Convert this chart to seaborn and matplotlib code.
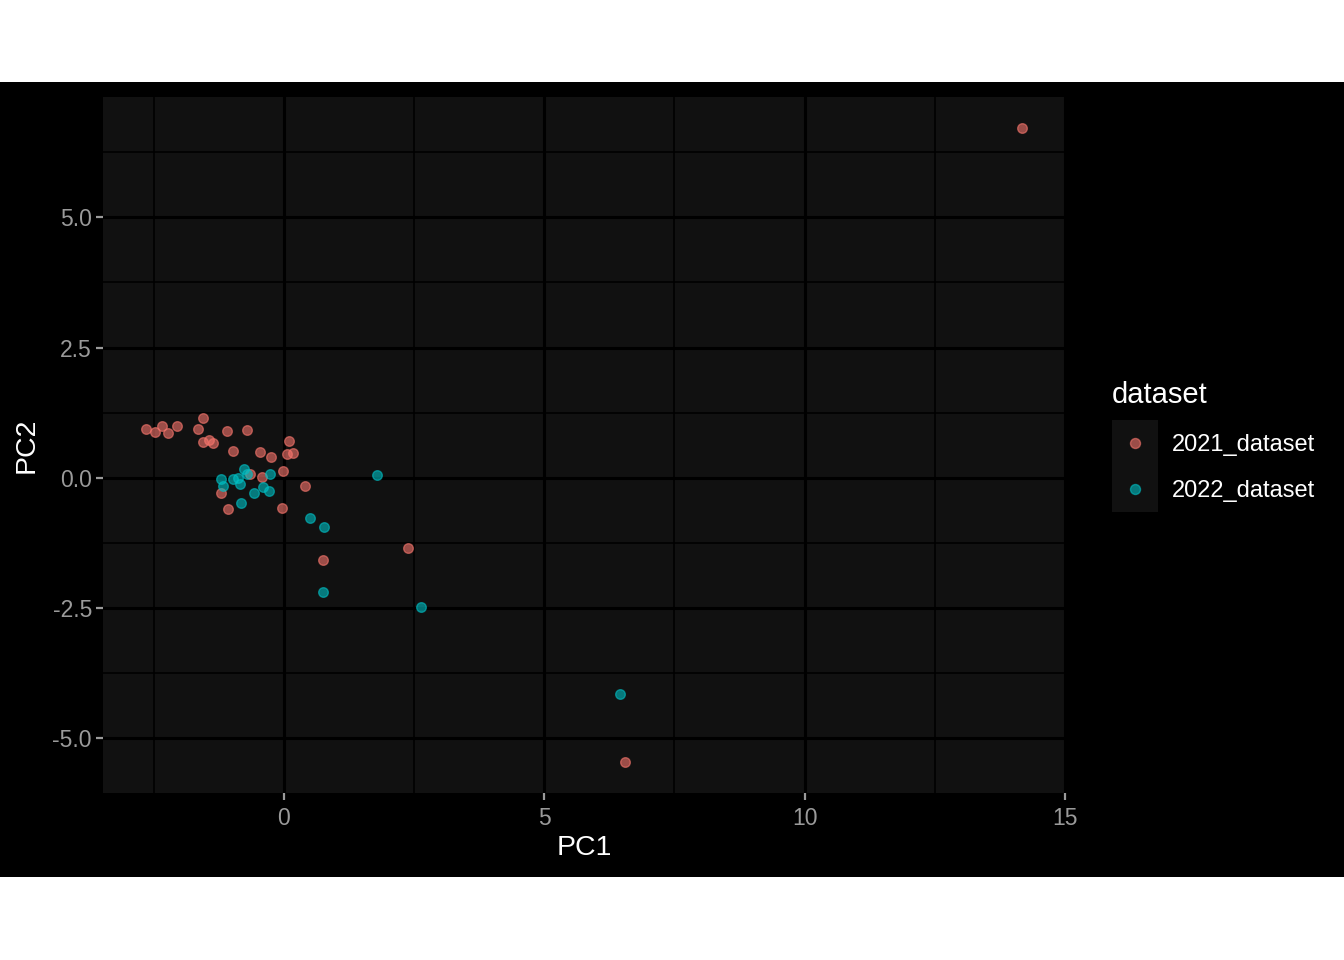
import matplotlib
matplotlib.use("Agg")
import matplotlib.pyplot as plt
from matplotlib.patches import Rectangle
from matplotlib.lines import Line2D
from matplotlib.ticker import MultipleLocator
import seaborn as sns
import pandas as pd

pc1_2021 = [-2.64, -2.47, -2.34, -2.22, -2.05, -1.55, -1.65, -1.55, -1.44, -1.36,
            -1.09, -0.71, -0.98, -0.46, -0.25, 0.10, 0.06, 0.17, -0.02, -0.65,
            -0.42, 0.40, -1.21, -1.07, -0.04, 0.75, 2.38, 6.55, 14.18]
pc2_2021 = [0.94, 0.88, 1.00, 0.86, 1.00, 1.15, 0.94, 0.69, 0.73, 0.67,
            0.90, 0.92, 0.52, 0.50, 0.40, 0.71, 0.46, 0.48, 0.13, 0.08,
            0.02, -0.15, -0.29, -0.60, -0.58, -1.57, -1.34, -5.45, 6.72]
pc1_2022 = [-0.77, -0.71, -1.21, -1.17, -0.98, -0.88, -0.84, -0.27, -0.57, -0.40,
            -0.29, -0.82, 0.50, 0.77, 1.80, 0.75, 2.64, 6.46]
pc2_2022 = [0.17, 0.08, -0.02, -0.15, -0.02, 0.00, -0.12, 0.08, -0.29, -0.17,
            -0.25, -0.48, -0.77, -0.94, 0.06, -2.19, -2.48, -4.15]
groups = ["2021_dataset", "2022_dataset"]
colors = ["#F8766D", "#00BFC4"]
xticks = [0, 5, 10, 15]
yticks = [-5.0, -2.5, 0.0, 2.5, 5.0]

df = pd.DataFrame({
    "PC1": pc1_2021 + pc1_2022,
    "PC2": pc2_2021 + pc2_2022,
    "dataset": [groups[0]] * len(pc1_2021) + [groups[1]] * len(pc1_2022),
})

sns.set_theme(style="dark")
plt.rcParams['font.family'] = ['Liberation Sans', 'DejaVu Sans']

W, H = 1344, 960
fig = plt.figure(figsize=(W / 100, H / 100), dpi=100, facecolor="white")
fig.patches.append(Rectangle((0, 1 - 877 / H), 1, (877 - 82) / H,
                             transform=fig.transFigure, facecolor="black",
                             edgecolor="none", zorder=-10))
ax = fig.add_axes([103 / W, 1 - 793 / H, (1065 - 103) / W, (793 - 97) / H])
ax.set_facecolor("#111111")

for g, c in zip(groups, colors):
    sub = df[df["dataset"] == g]
    sns.scatterplot(data=sub, x="PC1", y="PC2", color=c, edgecolor=c,
                    alpha=0.6, s=48, linewidth=1.0, legend=False, ax=ax, zorder=3)

ax.set_xlim(-3.47, 14.96)
ax.set_ylim(-6.05, 7.31)
ax.xaxis.set_minor_locator(MultipleLocator(2.5))
ax.yaxis.set_minor_locator(MultipleLocator(1.25))
ax.set_yticks(yticks)
ax.set_yticklabels([f"{v:.1f}" for v in yticks])
ax.set_xticks(xticks)
ax.set_xticklabels([str(v) for v in xticks])
ax.grid(which="major", color="black", linewidth=2.2)
ax.grid(which="minor", color="black", linewidth=1.1)
ax.set_axisbelow(True)
for s in ax.spines.values():
    s.set_visible(False)
ax.tick_params(axis="both", which="major", colors="#9a9a9a", labelsize=16.5,
               length=5, width=1.6, bottom=True, left=True)
ax.tick_params(axis="x", which="major", pad=5)
ax.tick_params(axis="y", which="major", pad=3)
ax.tick_params(axis="both", which="minor", length=0)
ax.set_xlabel("PC1", color="white", fontsize=20.5, labelpad=4)
ax.set_ylabel("PC2", color="white", fontsize=20.5, labelpad=9)

# legend (drawn manually in figure coordinates)
fig.patches.append(Rectangle((1112 / W, 1 - 512 / H), 46 / W, 92 / H,
                             transform=fig.transFigure, facecolor="#111111",
                             edgecolor="none", zorder=-5))
fig.text(1112 / W, 1 - 395 / H, "dataset", color="white", fontsize=21,
         ha="left", va="center")
for i, (g, c) in enumerate(zip(groups, colors)):
    yc = 1 - (443 + 46 * i) / H
    fig.add_artist(Line2D([1135 / W], [yc], transform=fig.transFigure,
                          linestyle="none", marker="o", markersize=7.2,
                          markerfacecolor=c, markeredgecolor=c,
                          markeredgewidth=1.0, alpha=0.6))
    fig.text(1172 / W, yc - 2 / H, g, color="white", fontsize=17,
             ha="left", va="center")

fig.savefig("out.png", dpi=100, facecolor="white")
